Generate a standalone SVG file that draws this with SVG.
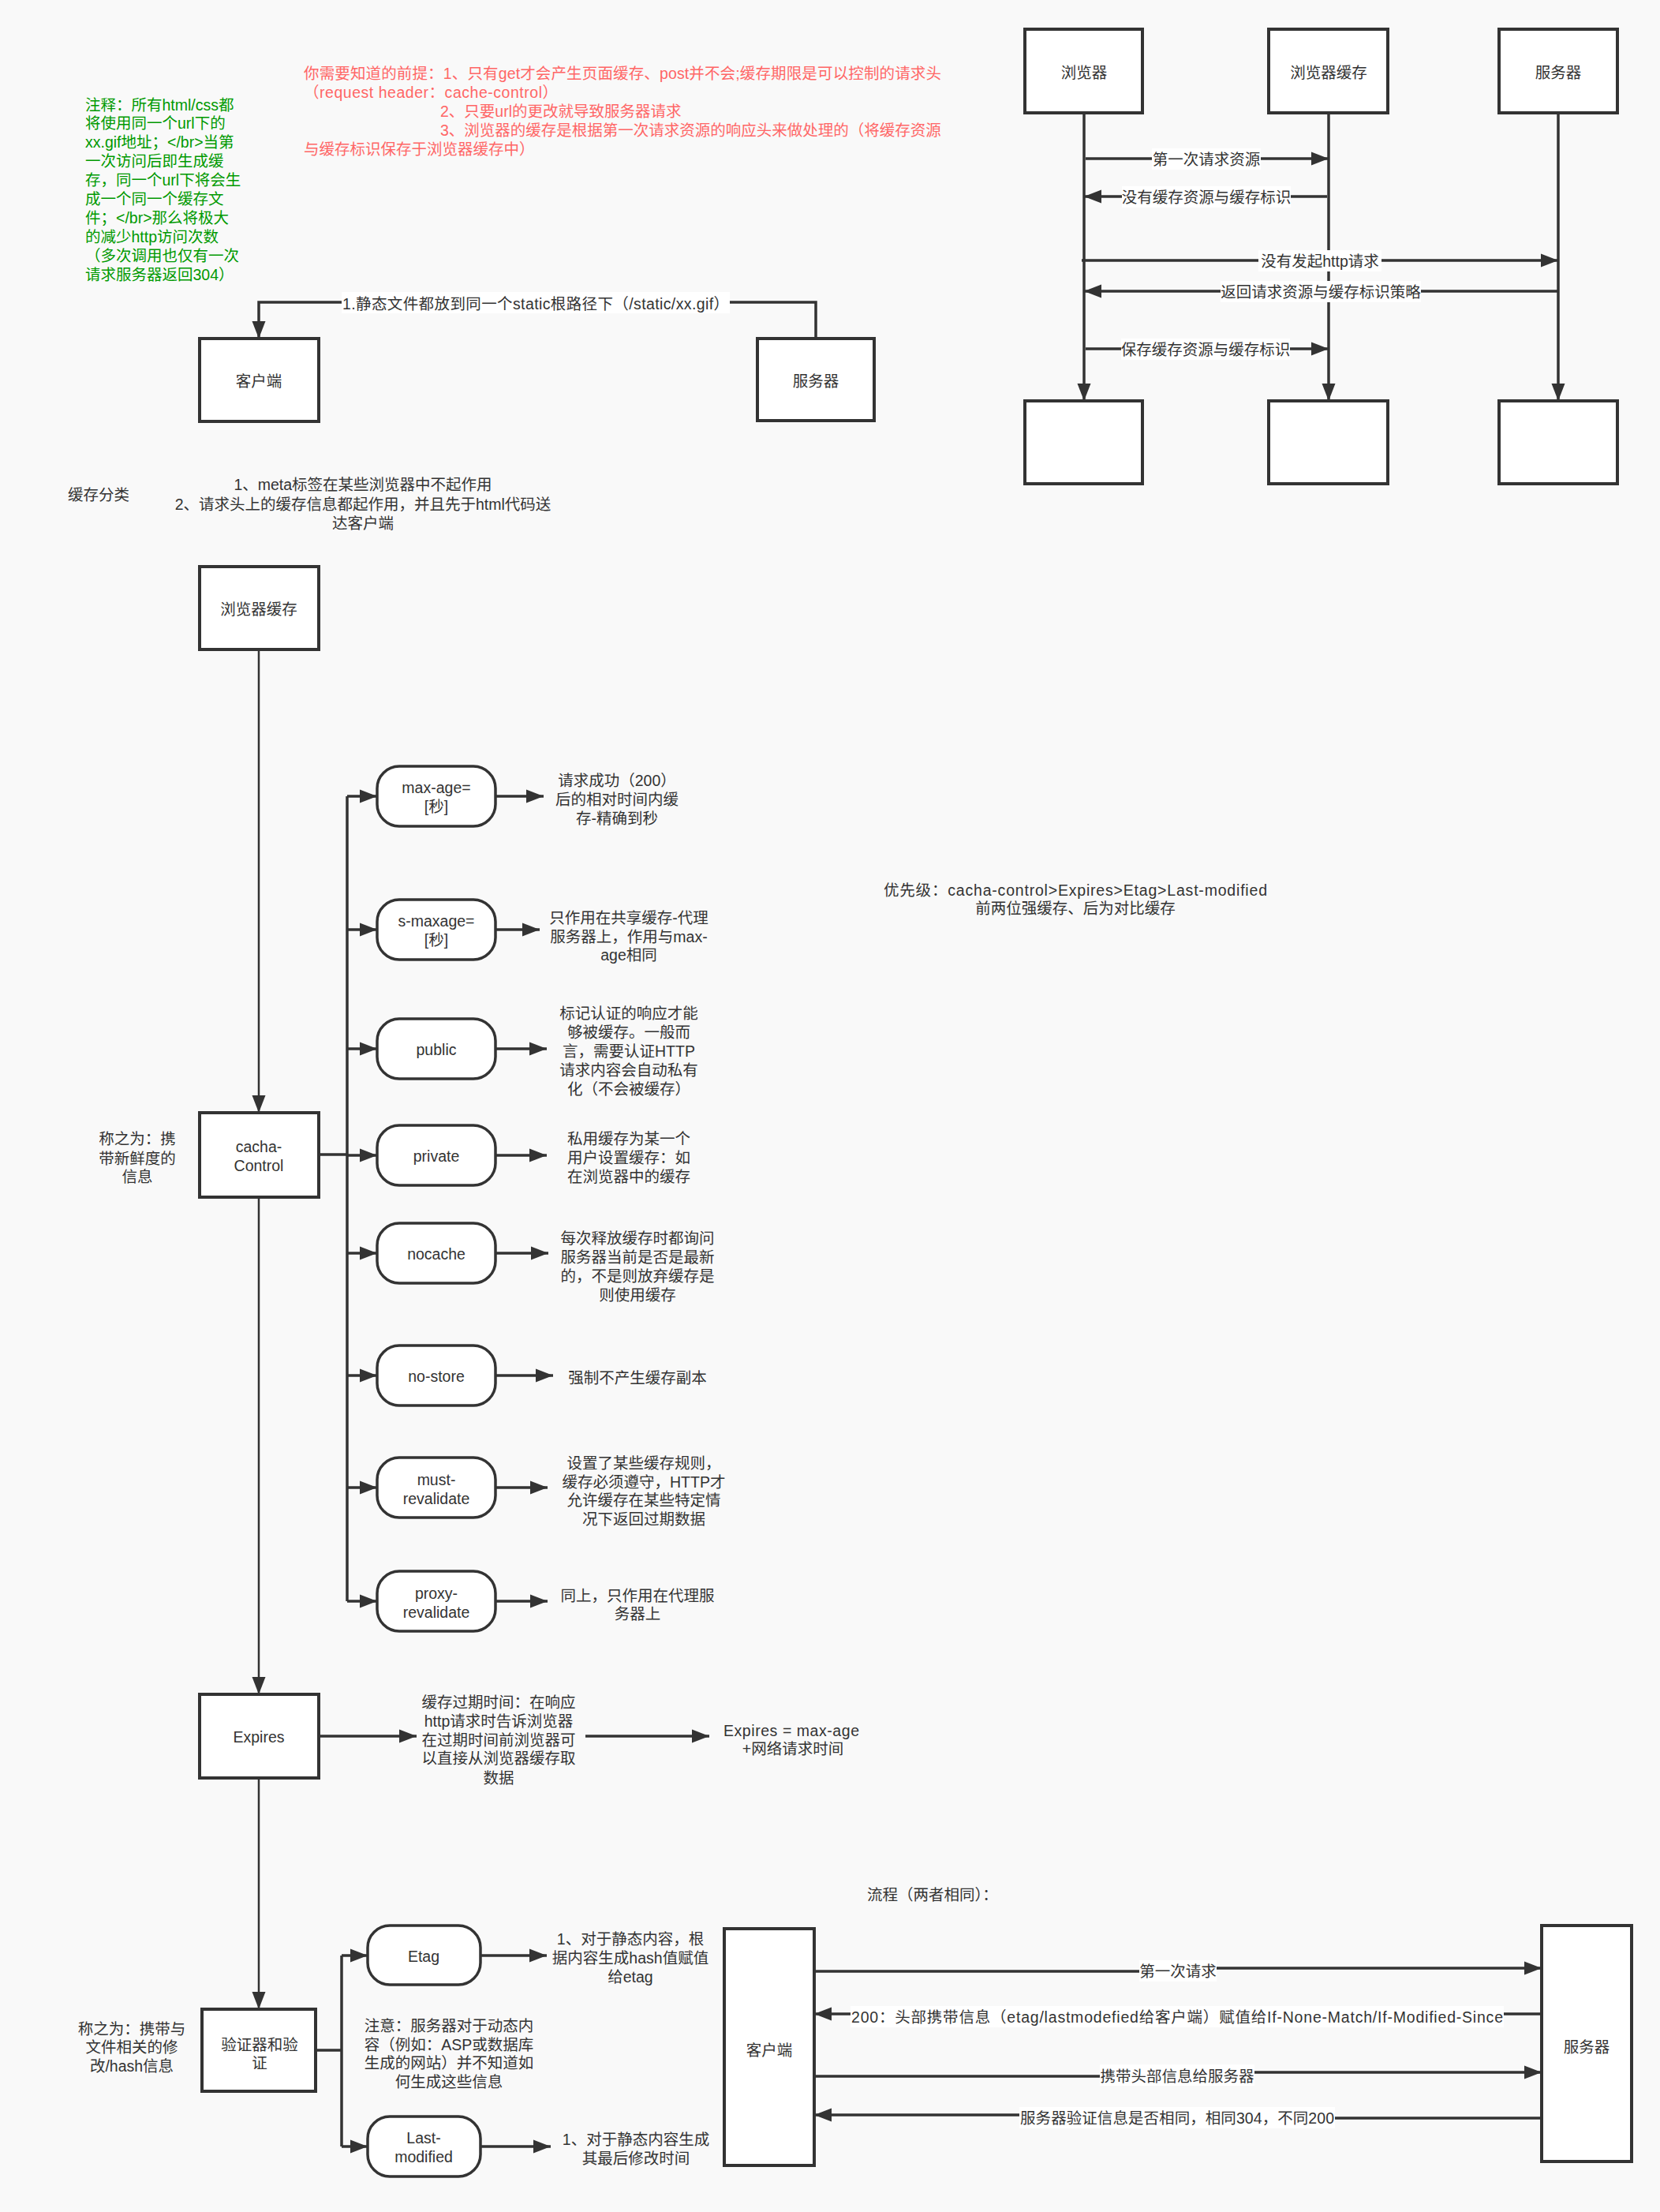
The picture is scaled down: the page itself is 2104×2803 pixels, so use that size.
<svg xmlns="http://www.w3.org/2000/svg" width="2104" height="2803" viewBox="0 0 2104 2803">
<defs>
<marker id="arr" markerUnits="userSpaceOnUse" markerWidth="23" markerHeight="18" refX="22" refY="9" orient="auto">
<path d="M0,0.5 L22,9 L0,17.5 Z" fill="#333"/>
</marker>
<style>
text{font-family:"Liberation Sans","Noto Sans CJK SC",sans-serif;font-size:19.5px;fill:#333;dominant-baseline:central}
.c{text-anchor:middle}
.red{fill:#ff6666}
.green{fill:#009900}
.box{fill:#fff;stroke:#333;stroke-width:4}
.rnd{fill:#fff;stroke:#333;stroke-width:3.5}
.ln{fill:none;stroke:#333;stroke-width:3.5}
.thin{fill:none;stroke:#333;stroke-width:2.5}
.lbl{fill:#fff}
</style>
</defs>
<rect width="2104" height="2803" fill="#f9f9f9"/>

<!-- notes -->
<g id="note-red">
<text class="red"><tspan x="385" y="93" textLength="808" lengthAdjust="spacing">你需要知道的前提：1、只有get才会产生页面缓存、post并不会;缓存期限是可以控制的请求头</tspan><tspan x="385" y="117" textLength="322" lengthAdjust="spacing">（request header：cache-control）</tspan><tspan x="558" y="141">2、只要url的更改就导致服务器请求</tspan><tspan x="558" y="165">3、浏览器的缓存是根据第一次请求资源的响应头来做处理的（将缓存资源</tspan><tspan x="385" y="189">与缓存标识保存于浏览器缓存中）</tspan></text>
</g>
<g id="note-green">
<text class="green"><tspan x="108" y="133">注释：所有html/css都</tspan><tspan x="108" y="156">将使用同一个url下的</tspan><tspan x="108" y="180">xx.gif地址；&lt;/br&gt;当第</tspan><tspan x="108" y="204">一次访问后即生成缓</tspan><tspan x="108" y="228">存，同一个url下将会生</tspan><tspan x="108" y="252">成一个同一个缓存文</tspan><tspan x="108" y="276">件；&lt;/br&gt;那么将极大</tspan><tspan x="108" y="300">的减少http访问次数</tspan><tspan x="108" y="324">（多次调用也仅有一次</tspan><tspan x="108" y="348">请求服务器返回304）</tspan></text>
</g>

<!-- connectors -->
<g id="connectors">
<path class="ln" d="M1034,429 V383 H328 V429" marker-end="url(#arr)"/>
<path class="ln" d="M1374,143 V508" marker-end="url(#arr)"/>
<path class="ln" d="M1684,143 V508" marker-end="url(#arr)"/>
<path class="ln" d="M1975,143 V508" marker-end="url(#arr)"/>
<path class="ln" d="M1376,201 H1684" marker-end="url(#arr)"/>
<path class="ln" d="M1682,249 H1374" marker-end="url(#arr)"/>
<path class="ln" d="M1371,330 H1975" marker-end="url(#arr)"/>
<path class="ln" d="M1975,369 H1374" marker-end="url(#arr)"/>
<path class="ln" d="M1376,442 H1684" marker-end="url(#arr)"/>
<path class="thin" d="M328,823 V1410" marker-end="url(#arr)"/>
<path class="thin" d="M328,1517 V2147" marker-end="url(#arr)"/>
<path class="thin" d="M328,2253 V2546" marker-end="url(#arr)"/>
<path class="ln" d="M404,1463 H440 M440,1009 V2029"/>
<path class="ln" d="M440,1009 H478" marker-end="url(#arr)"/>
<path class="ln" d="M440,1178 H478" marker-end="url(#arr)"/>
<path class="ln" d="M440,1329 H478" marker-end="url(#arr)"/>
<path class="ln" d="M440,1464 H478" marker-end="url(#arr)"/>
<path class="ln" d="M440,1588 H478" marker-end="url(#arr)"/>
<path class="ln" d="M440,1743 H478" marker-end="url(#arr)"/>
<path class="ln" d="M440,1885 H478" marker-end="url(#arr)"/>
<path class="ln" d="M440,2029 H478" marker-end="url(#arr)"/>
<path class="ln" d="M628,1009 H689" marker-end="url(#arr)"/>
<path class="ln" d="M628,1178 H684" marker-end="url(#arr)"/>
<path class="ln" d="M628,1329 H693" marker-end="url(#arr)"/>
<path class="ln" d="M628,1464 H693" marker-end="url(#arr)"/>
<path class="ln" d="M628,1588 H695" marker-end="url(#arr)"/>
<path class="ln" d="M628,1743 H701" marker-end="url(#arr)"/>
<path class="ln" d="M628,1885 H694" marker-end="url(#arr)"/>
<path class="ln" d="M628,2029 H694" marker-end="url(#arr)"/>
<path class="ln" d="M404,2200 H528" marker-end="url(#arr)"/>
<path class="ln" d="M742,2200 H899" marker-end="url(#arr)"/>
<path class="ln" d="M400,2598 H433 M433,2478 V2720"/>
<path class="ln" d="M433,2478 H466" marker-end="url(#arr)"/>
<path class="ln" d="M433,2720 H466" marker-end="url(#arr)"/>
<path class="ln" d="M609,2478 H693" marker-end="url(#arr)"/>
<path class="ln" d="M609,2720 H698" marker-end="url(#arr)"/>
<path class="ln" d="M1032,2498 H1493 V2494 H1954" marker-end="url(#arr)"/>
<path class="ln" d="M1954,2552 H1032" marker-end="url(#arr)"/>
<path class="ln" d="M1032,2631 H1492 V2626 H1954" marker-end="url(#arr)"/>
<path class="ln" d="M1954,2684 H1492 V2680 H1032" marker-end="url(#arr)"/>
<rect class="lbl" x="433" y="370" width="492" height="27"/>
<text class="c" x="679" y="385" textLength="490" lengthAdjust="spacing">1.静态文件都放到同一个static根路径下（/static/xx.gif）</text>
<rect class="lbl" x="1460" y="188" width="138" height="27"/>
<text class="c" x="1529" y="202">第一次请求资源</text>
<rect class="lbl" x="1422" y="236" width="214" height="27"/>
<text class="c" x="1529" y="250">没有缓存资源与缓存标识</text>
<rect class="lbl" x="1595" y="317" width="156" height="27"/>
<text class="c" x="1673" y="331">没有发起http请求</text>
<rect class="lbl" x="1547" y="356" width="254" height="27"/>
<text class="c" x="1674" y="370">返回请求资源与缓存标识策略</text>
<rect class="lbl" x="1421" y="429" width="214" height="27"/>
<text class="c" x="1528" y="443">保存缓存资源与缓存标识</text>
<rect class="lbl" x="1444" y="2484" width="98" height="27"/>
<text class="c" x="1493" y="2498">第一次请求</text>
<rect class="lbl" x="1078" y="2542" width="828" height="27"/>
<text class="c" x="1492" y="2556" textLength="826" lengthAdjust="spacing">200：头部携带信息（etag/lastmodefied给客户端）赋值给If-None-Match/If-Modified-Since</text>
<rect class="lbl" x="1394" y="2616" width="196" height="27"/>
<text class="c" x="1492" y="2631">携带头部信息给服务器</text>
<rect class="lbl" x="1292" y="2670" width="400" height="27"/>
<text class="c" x="1492" y="2684" textLength="398" lengthAdjust="spacing">服务器验证信息是否相同，相同304，不同200</text>
</g>

<!-- sequence nodes -->
<g id="seq-browser"><rect class="box" x="1299" y="37" width="149" height="106"/><text class="c" x="1374" y="92">浏览器</text></g>
<g id="seq-cache"><rect class="box" x="1608" y="37" width="151" height="106"/><text class="c" x="1684" y="92">浏览器缓存</text></g>
<g id="seq-server"><rect class="box" x="1900" y="37" width="150" height="106"/><text class="c" x="1975" y="92">服务器</text></g>
<g id="seq-browser-end"><rect class="box" x="1299" y="508" width="149" height="105"/></g>
<g id="seq-cache-end"><rect class="box" x="1608" y="508" width="151" height="105"/></g>
<g id="seq-server-end"><rect class="box" x="1900" y="508" width="150" height="105"/></g>

<g id="client-top"><rect class="box" x="253" y="429" width="151" height="105"/><text class="c" x="328" y="483">客户端</text></g>
<g id="server-top"><rect class="box" x="960" y="429" width="148" height="104"/><text class="c" x="1034" y="483">服务器</text></g>

<g id="cache-classify">
<text x="86" y="627">缓存分类</text>
<text class="c"><tspan x="460" y="614">1、meta标签在某些浏览器中不起作用</tspan><tspan x="460" y="639">2、请求头上的缓存信息都起作用，并且先于html代码送</tspan><tspan x="460" y="663">达客户端</tspan></text>
</g>

<g id="browser-cache"><rect class="box" x="253" y="718" width="151" height="105"/><text class="c" x="328" y="772">浏览器缓存</text></g>

<g id="cacha-control"><rect class="box" x="253" y="1410" width="151" height="107"/>
<text class="c"><tspan x="328" y="1453">cacha-</tspan><tspan x="328" y="1477">Control</tspan></text></g>
<g id="cacha-note">
<text class="c"><tspan x="174" y="1443">称之为：携</tspan><tspan x="174" y="1468">带新鲜度的</tspan><tspan x="174" y="1491">信息</tspan></text>
</g>

<g id="max-age"><rect class="rnd" x="478" y="971" width="150" height="76" rx="28"/>
<text class="c"><tspan x="553" y="998">max-age=</tspan><tspan x="553" y="1022">[秒]</tspan></text></g>
<g id="max-age-desc">
<text class="c"><tspan x="782" y="989">请求成功（200）</tspan><tspan x="782" y="1013">后的相对时间内缓</tspan><tspan x="782" y="1037">存-精确到秒</tspan></text>
</g>

<g id="s-maxage"><rect class="rnd" x="478" y="1140" width="150" height="76" rx="28"/>
<text class="c"><tspan x="553" y="1167">s-maxage=</tspan><tspan x="553" y="1191">[秒]</tspan></text></g>
<g id="s-maxage-desc">
<text class="c"><tspan x="797" y="1163">只作用在共享缓存-代理</tspan><tspan x="797" y="1187">服务器上，作用与max-</tspan><tspan x="797" y="1210">age相同</tspan></text>
</g>

<g id="public"><rect class="rnd" x="478" y="1291" width="150" height="76" rx="28"/>
<text class="c" x="553" y="1330">public</text></g>
<g id="public-desc">
<text class="c"><tspan x="797" y="1284">标记认证的响应才能</tspan><tspan x="797" y="1308">够被缓存。一般而</tspan><tspan x="797" y="1332">言，需要认证HTTP</tspan><tspan x="797" y="1356">请求内容会自动私有</tspan><tspan x="797" y="1380">化（不会被缓存）</tspan></text>
</g>

<g id="private"><rect class="rnd" x="478" y="1426" width="150" height="76" rx="28"/>
<text class="c" x="553" y="1465">private</text></g>
<g id="private-desc">
<text class="c"><tspan x="797" y="1443">私用缓存为某一个</tspan><tspan x="797" y="1467">用户设置缓存：如</tspan><tspan x="797" y="1491">在浏览器中的缓存</tspan></text>
</g>

<g id="nocache"><rect class="rnd" x="478" y="1550" width="150" height="76" rx="28"/>
<text class="c" x="553" y="1589">nocache</text></g>
<g id="nocache-desc">
<text class="c"><tspan x="808" y="1569">每次释放缓存时都询问</tspan><tspan x="808" y="1593">服务器当前是否是最新</tspan><tspan x="808" y="1617">的，不是则放弃缓存是</tspan><tspan x="808" y="1641">则使用缓存</tspan></text>
</g>

<g id="no-store"><rect class="rnd" x="478" y="1705" width="150" height="76" rx="28"/>
<text class="c" x="553" y="1744">no-store</text></g>
<g id="no-store-desc"><text class="c" x="808" y="1746">强制不产生缓存副本</text></g>

<g id="must-revalidate"><rect class="rnd" x="478" y="1847" width="150" height="76" rx="28"/>
<text class="c"><tspan x="553" y="1875">must-</tspan><tspan x="553" y="1899">revalidate</tspan></text></g>
<g id="must-desc">
<text class="c"><tspan x="816" y="1854">设置了某些缓存规则，</tspan><tspan x="816" y="1878">缓存必须遵守，HTTP才</tspan><tspan x="816" y="1901">允许缓存在某些特定情</tspan><tspan x="816" y="1925">况下返回过期数据</tspan></text>
</g>

<g id="proxy-revalidate"><rect class="rnd" x="478" y="1991" width="150" height="76" rx="28"/>
<text class="c"><tspan x="553" y="2019">proxy-</tspan><tspan x="553" y="2043">revalidate</tspan></text></g>
<g id="proxy-desc">
<text class="c"><tspan x="808" y="2022">同上，只作用在代理服</tspan><tspan x="808" y="2045">务器上</tspan></text>
</g>

<g id="priority">
<text class="c"><tspan x="1363" y="1128" textLength="486" lengthAdjust="spacing">优先级：cacha-control&gt;Expires&gt;Etag&gt;Last-modified</tspan><tspan x="1363" y="1151">前两位强缓存、后为对比缓存</tspan></text>
</g>

<g id="expires"><rect class="box" x="253" y="2147" width="151" height="106"/><text class="c" x="328" y="2201">Expires</text></g>
<g id="expires-desc">
<text class="c"><tspan x="632" y="2157">缓存过期时间：在响应</tspan><tspan x="632" y="2181">http请求时告诉浏览器</tspan><tspan x="632" y="2205">在过期时间前浏览器可</tspan><tspan x="632" y="2228">以直接从浏览器缓存取</tspan><tspan x="632" y="2253">数据</tspan></text>
</g>
<g id="expires-formula">
<text class="c"><tspan x="1003" y="2193" textLength="172" lengthAdjust="spacing">Expires = max-age</tspan><tspan x="1005" y="2216">+网络请求时间</tspan></text>
</g>

<g id="validator"><rect class="box" x="256" y="2546" width="144" height="104"/>
<text class="c"><tspan x="329" y="2591">验证器和验</tspan><tspan x="329" y="2614">证</tspan></text></g>
<g id="validator-note">
<text class="c"><tspan x="167" y="2571">称之为：携带与</tspan><tspan x="167" y="2594">文件相关的修</tspan><tspan x="167" y="2618">改/hash信息</tspan></text>
</g>

<g id="etag"><rect class="rnd" x="466" y="2440" width="143" height="75" rx="28"/>
<text class="c" x="537" y="2479">Etag</text></g>
<g id="etag-desc">
<text class="c"><tspan x="799" y="2457">1、对于静态内容，根</tspan><tspan x="799" y="2481">据内容生成hash值赋值</tspan><tspan x="799" y="2505">给etag</tspan></text>
</g>
<g id="dynamic-note">
<text class="c"><tspan x="569" y="2567">注意：服务器对于动态内</tspan><tspan x="569" y="2591">容（例如：ASP或数据库</tspan><tspan x="569" y="2614">生成的网站）并不知道如</tspan><tspan x="569" y="2638">何生成这些信息</tspan></text>
</g>
<g id="last-modified"><rect class="rnd" x="466" y="2682" width="143" height="76" rx="28"/>
<text class="c"><tspan x="537" y="2709">Last-</tspan><tspan x="537" y="2733">modified</tspan></text></g>
<g id="last-modified-desc">
<text class="c"><tspan x="806" y="2711">1、对于静态内容生成</tspan><tspan x="806" y="2735">其最后修改时间</tspan></text>
</g>

<g id="flow-title"><text x="1099" y="2401">流程（两者相同）：</text></g>
<g id="flow-client"><rect class="box" x="918" y="2444" width="114" height="300"/><text class="c" x="975" y="2598">客户端</text></g>
<g id="flow-server"><rect class="box" x="1954" y="2440" width="114" height="299"/><text class="c" x="2011" y="2594">服务器</text></g>
</svg>
